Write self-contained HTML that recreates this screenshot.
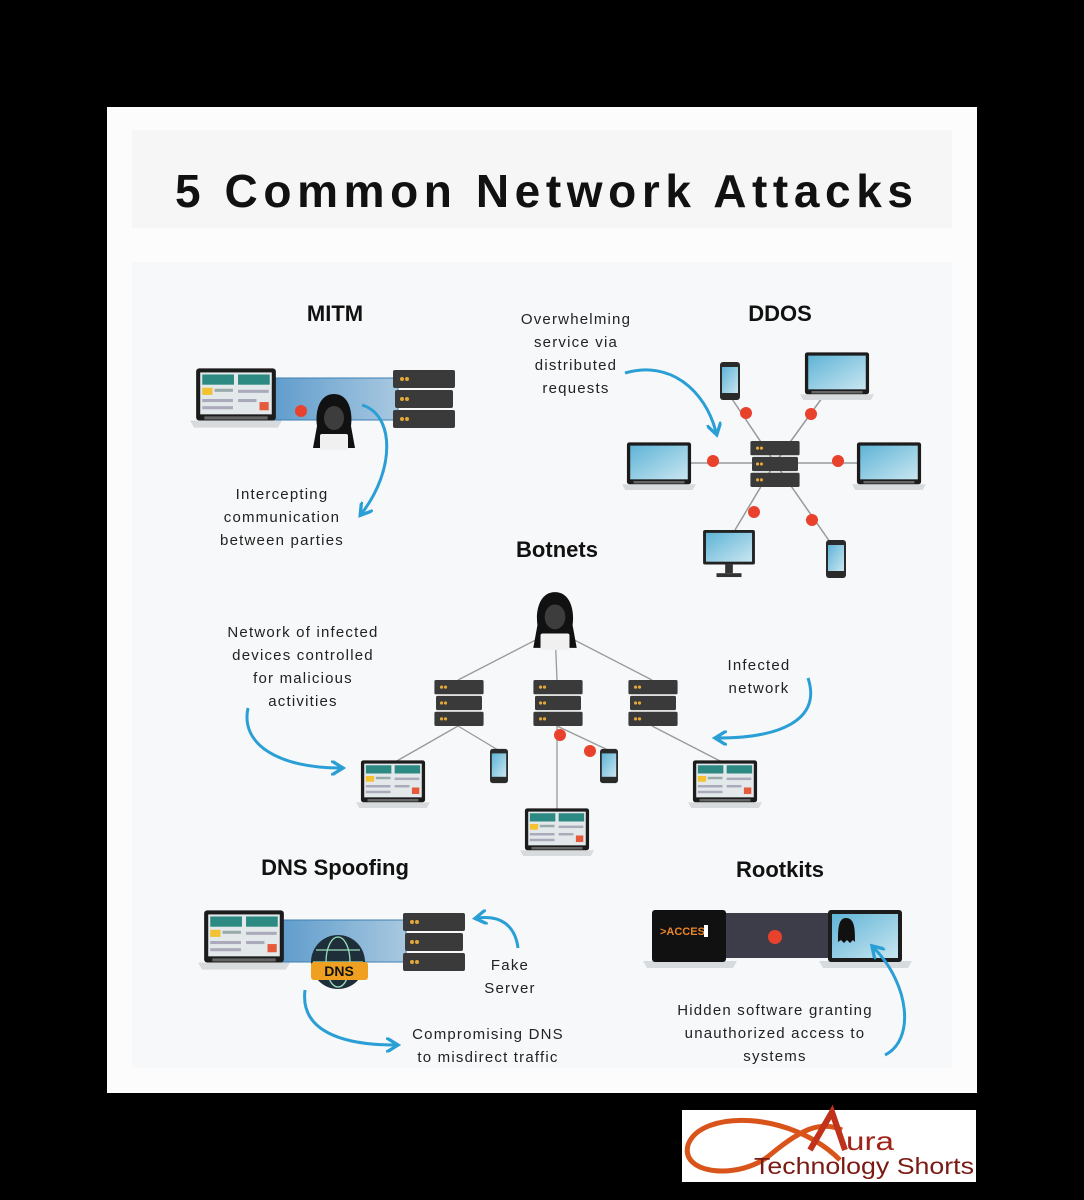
<!DOCTYPE html>
<html><head><meta charset="utf-8"><style>
html,body{margin:0;padding:0;background:#000;}
svg{display:block}
.t{font-family:"Liberation Sans",sans-serif;font-weight:bold;fill:#111}
.b{font-family:"Liberation Sans",sans-serif;font-size:15px;fill:#222;letter-spacing:1.2px;text-anchor:middle}
</style></head><body>
<svg width="1084" height="1200" viewBox="0 0 1084 1200" xmlns="http://www.w3.org/2000/svg">
<defs>
<linearGradient id="scr" x1="0" y1="0" x2="1" y2="1"><stop offset="0" stop-color="#5fb4d6"/><stop offset="1" stop-color="#c9e6f1"/></linearGradient>
<linearGradient id="band" x1="0" y1="0" x2="1" y2="0"><stop offset="0" stop-color="#5f9ccc"/><stop offset="1" stop-color="#a8c8e0"/></linearGradient>
<marker id="ah" viewBox="0 0 10 10" refX="6" refY="5" markerWidth="5" markerHeight="5" orient="auto"><path d="M0,0 L8,5 L0,10" fill="none" stroke="#2a9fd6" stroke-width="2.2"/></marker>
<symbol id="lapB" viewBox="0 0 90 60"><path d="M0,51 H90 L86,58 H4Z" fill="#d8dbde"/><rect x="6" y="0" width="78" height="51" rx="3" fill="#1c1c1c"/><rect x="10" y="4" width="70" height="41" fill="url(#scr)"/><rect x="14" y="47" width="62" height="3" fill="#666"/></symbol>
<symbol id="lapU" viewBox="0 0 90 60"><path d="M0,51 H90 L86,58 H4Z" fill="#d8dbde"/><rect x="6" y="0" width="78" height="51" rx="3" fill="#1c1c1c"/><rect x="10" y="4" width="70" height="41" fill="#e3e8ea"/><rect x="12" y="6" width="31" height="10" fill="#2c8a82"/><rect x="47" y="6" width="31" height="10" fill="#2c8a82"/><rect x="12" y="19" width="10" height="7" fill="#f2c230"/><rect x="24" y="20" width="18" height="3" fill="#9aa"/><rect x="12" y="30" width="30" height="3" fill="#aab"/><rect x="12" y="37" width="30" height="3" fill="#aab"/><rect x="47" y="21" width="30" height="3" fill="#aab"/><rect x="47" y="30" width="18" height="3" fill="#aab"/><rect x="68" y="33" width="9" height="8" fill="#e45a3a"/><rect x="14" y="47" width="62" height="3" fill="#666"/></symbol>
<symbol id="srv" viewBox="0 0 62 58"><rect x="0" y="0" width="62" height="18" rx="2" fill="#3a3a3a"/><rect x="2" y="20" width="58" height="18" rx="2" fill="#3a3a3a"/><rect x="0" y="40" width="62" height="18" rx="2" fill="#3a3a3a"/><g fill="#e3a838"><circle cx="9" cy="9" r="2"/><circle cx="14" cy="9" r="2"/><circle cx="9" cy="29" r="2"/><circle cx="14" cy="29" r="2"/><circle cx="9" cy="49" r="2"/><circle cx="14" cy="49" r="2"/></g></symbol>
<symbol id="ph" viewBox="0 0 20 38"><rect width="20" height="38" rx="3" fill="#2a2a2a"/><rect x="2" y="5" width="16" height="26" fill="url(#scr)"/></symbol>
<symbol id="mon" viewBox="0 0 54 50"><rect width="54" height="36" rx="2" fill="#222"/><rect x="3" y="3" width="48" height="30" fill="url(#scr)"/><rect x="23" y="36" width="8" height="9" fill="#333"/><rect x="14" y="45" width="26" height="4" fill="#333"/></symbol>
<symbol id="hk" viewBox="0 0 50 58"><path d="M25,2 C10,2 6,20 8,34 L4,56 H46 L42,34 C44,20 40,2 25,2Z" fill="#111"/><ellipse cx="25" cy="26" rx="10" ry="12" fill="#3d3d3d"/><rect x="11" y="42" width="28" height="16" rx="2" fill="#f0f0f0"/></symbol>
</defs>
<rect width="1084" height="1200" fill="#000"/>
<rect x="107" y="107" width="870" height="986" fill="#fcfcfc"/>
<rect x="132" y="130" width="820" height="98" fill="#f6f6f6"/>
<rect x="132" y="262" width="820" height="806" fill="#f7f8f9"/>
<text class="t" x="175" y="207" font-size="46" textLength="738" lengthAdjust="spacing">5 Common Network Attacks</text>

<!-- MITM -->
<text class="t" x="335" y="321" font-size="22" text-anchor="middle">MITM</text>
<rect x="272" y="378" width="126" height="42" fill="url(#band)" stroke="#3f7fb3" stroke-width="1"/>
<use href="#lapU" x="190" y="368" width="92" height="62"/>
<use href="#srv" x="393" y="370" width="62" height="58"/>
<circle cx="301" cy="411" r="6" fill="#e8412c"/>
<use href="#hk" x="309" y="392" width="50" height="58"/>
<path d="M362,405 C395,415 395,470 362,513" fill="none" stroke="#2a9fd6" stroke-width="3" marker-end="url(#ah)"/>
<text class="b" x="282" y="499">Intercepting</text>
<text class="b" x="282" y="522">communication</text>
<text class="b" x="282" y="545">between parties</text>

<!-- DDOS -->
<text class="t" x="780" y="321" font-size="22" text-anchor="middle">DDOS</text>
<text class="b" x="576" y="324">Overwhelming</text>
<text class="b" x="576" y="347">service via</text>
<text class="b" x="576" y="370">distributed</text>
<text class="b" x="576" y="393">requests</text>
<path d="M625,373 C670,360 705,390 716,432" fill="none" stroke="#2a9fd6" stroke-width="3" marker-end="url(#ah)"/>
<g stroke="#999" stroke-width="1.5"><line x1="775" y1="463" x2="730" y2="396"/><line x1="775" y1="463" x2="822" y2="398"/><line x1="775" y1="463" x2="688" y2="463"/><line x1="775" y1="463" x2="860" y2="463"/><line x1="775" y1="463" x2="735" y2="530"/><line x1="775" y1="463" x2="830" y2="542"/></g>
<use href="#srv" x="750" y="441" width="50" height="46"/>
<use href="#ph" x="720" y="362" width="20" height="38"/>
<use href="#lapB" x="800" y="352" width="74" height="50"/>
<use href="#lapB" x="622" y="442" width="74" height="50"/>
<use href="#lapB" x="852" y="442" width="74" height="50"/>
<use href="#mon" x="703" y="530" width="52" height="48"/>
<use href="#ph" x="826" y="540" width="20" height="38"/>
<g fill="#e8412c"><circle cx="746" cy="413" r="6"/><circle cx="811" cy="414" r="6"/><circle cx="713" cy="461" r="6"/><circle cx="838" cy="461" r="6"/><circle cx="754" cy="512" r="6"/><circle cx="812" cy="520" r="6"/></g>

<!-- Botnets -->
<text class="t" x="557" y="557" font-size="22" text-anchor="middle">Botnets</text>
<g stroke="#999" stroke-width="1.3"><line x1="555" y1="630" x2="458" y2="680"/><line x1="555" y1="630" x2="557" y2="680"/><line x1="555" y1="630" x2="652" y2="680"/><line x1="458" y1="726" x2="395" y2="762"/><line x1="458" y1="726" x2="498" y2="750"/><line x1="557" y1="726" x2="557" y2="810"/><line x1="557" y1="726" x2="608" y2="750"/><line x1="652" y1="726" x2="722" y2="762"/></g>
<use href="#hk" x="528" y="590" width="54" height="60"/>
<use href="#srv" x="433" y="680" width="52" height="46"/>
<use href="#srv" x="532" y="680" width="52" height="46"/>
<use href="#srv" x="627" y="680" width="52" height="46"/>
<use href="#lapU" x="356" y="760" width="74" height="50"/>
<use href="#lapU" x="520" y="808" width="74" height="50"/>
<use href="#lapU" x="688" y="760" width="74" height="50"/>
<use href="#ph" x="490" y="748" width="18" height="36"/>
<use href="#ph" x="600" y="748" width="18" height="36"/>
<circle cx="560" cy="735" r="6" fill="#e8412c"/><circle cx="590" cy="751" r="6" fill="#e8412c"/>
<text class="b" x="303" y="637">Network of infected</text>
<text class="b" x="303" y="660">devices controlled</text>
<text class="b" x="303" y="683">for malicious</text>
<text class="b" x="303" y="706">activities</text>
<path d="M248,708 C240,745 280,768 340,768" fill="none" stroke="#2a9fd6" stroke-width="3" marker-end="url(#ah)"/>
<text class="b" x="759" y="670">Infected</text>
<text class="b" x="759" y="693">network</text>
<path d="M808,678 C822,720 780,738 718,738" fill="none" stroke="#2a9fd6" stroke-width="3" marker-end="url(#ah)"/>

<!-- DNS -->
<text class="t" x="335" y="875" font-size="22" text-anchor="middle">DNS Spoofing</text>
<rect x="280" y="920" width="126" height="42" fill="url(#band)" stroke="#3f7fb3"/>
<use href="#lapU" x="198" y="910" width="92" height="62"/>
<use href="#srv" x="403" y="913" width="62" height="58"/>
<circle cx="338" cy="962" r="27" fill="#1f2f3a"/>
<g fill="none" stroke="#9db" stroke-width="1.3"><ellipse cx="338" cy="962" rx="12" ry="25"/><line x1="313" y1="962" x2="363" y2="962"/><line x1="316" y1="950" x2="360" y2="950"/><line x1="316" y1="975" x2="360" y2="975"/></g>
<rect x="311" y="962" width="57" height="18" rx="3" fill="#f0a020"/>
<text x="339" y="976" font-family="Liberation Sans,sans-serif" font-weight="bold" font-size="14" fill="#111" text-anchor="middle">DNS</text>
<path d="M518,948 C515,925 500,915 478,918" fill="none" stroke="#2a9fd6" stroke-width="3" marker-end="url(#ah)"/>
<text class="b" x="510" y="970">Fake</text>
<text class="b" x="510" y="993">Server</text>
<path d="M305,990 C300,1030 340,1045 395,1045" fill="none" stroke="#2a9fd6" stroke-width="3" marker-end="url(#ah)"/>
<text class="b" x="488" y="1039">Compromising DNS</text>
<text class="b" x="488" y="1062">to misdirect traffic</text>

<!-- Rootkits -->
<text class="t" x="780" y="877" font-size="22" text-anchor="middle">Rootkits</text>
<rect x="722" y="913" width="110" height="45" fill="#3d3d4a"/>
<circle cx="775" cy="937" r="7" fill="#e8412c"/>
<path d="M643,961 H737 L733,968 H647Z" fill="#d8dbde"/><rect x="652" y="910" width="74" height="52" rx="3" fill="#111"/>
<text x="660" y="935" font-family="Liberation Sans,sans-serif" font-weight="bold" font-size="11" fill="#e8862a">&gt;ACCES</text><rect x="704" y="925" width="4" height="12" fill="#fff"/>
<path d="M819,961 H912 L908,968 H823Z" fill="#d8dbde"/><rect x="828" y="910" width="74" height="52" rx="3" fill="#1c1c1c"/><rect x="832" y="914" width="66" height="44" fill="url(#scr)"/>
<path d="M846,918 C838,918 838,930 838,942 L841,940 L844,943 L847,940 L850,943 L853,940 L855,942 C855,930 855,918 846,918Z" fill="#111"/>
<path d="M885,1055 C915,1040 910,985 874,948" fill="none" stroke="#2a9fd6" stroke-width="3" marker-end="url(#ah)"/>
<text class="b" x="775" y="1015">Hidden software granting</text>
<text class="b" x="775" y="1038">unauthorized access to</text>
<text class="b" x="775" y="1061">systems</text>

<!-- logo -->
<rect x="682" y="1110" width="294" height="72" fill="#fff"/>
<path d="M840,1160 C790,1110 700,1110 688,1145 C680,1175 740,1180 770,1155 C800,1130 820,1120 842,1130" fill="none" stroke="#d9541a" stroke-width="5"/>
<path d="M810,1150 L832,1112 L845,1150" fill="none" stroke="#c0321a" stroke-width="6"/>
<text x="846" y="1150" font-family="Liberation Sans,sans-serif" font-size="26" fill="#a0241a" textLength="48" lengthAdjust="spacingAndGlyphs">ura</text>
<text x="754" y="1174" font-family="Liberation Sans,sans-serif" font-size="23" fill="#7a1a14" textLength="220" lengthAdjust="spacingAndGlyphs">Technology Shorts</text>
</svg>
</body></html>
